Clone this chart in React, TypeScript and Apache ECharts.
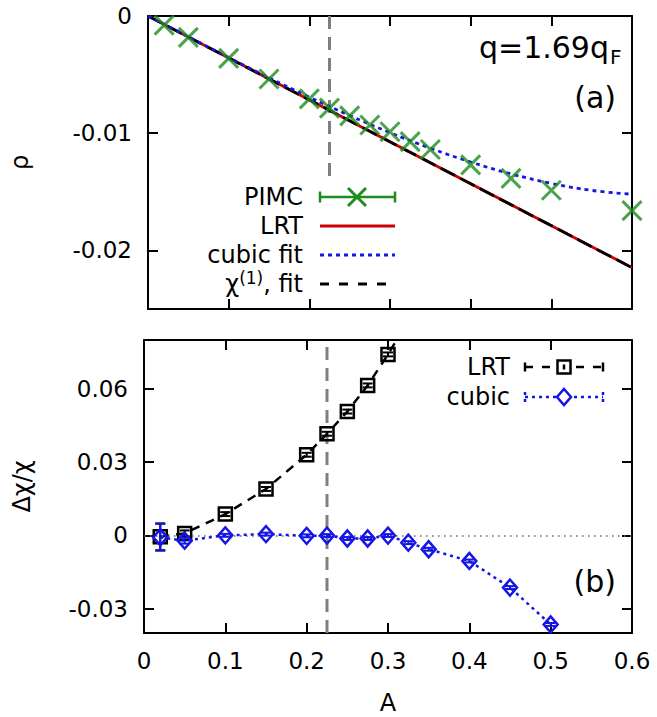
import React, { useEffect, useRef } from 'react';
import * as echarts from 'echarts';

const FONT = 'DejaVu Sans';

// ---- Panel (a): induced density rho versus perturbation amplitude A ----
const pimcA = [0.02, 0.05, 0.1, 0.15, 0.2, 0.225, 0.25, 0.275, 0.3, 0.325, 0.35, 0.4, 0.45, 0.5, 0.6];
const pimcRho = [-0.00078, -0.00182, -0.00362, -0.00538, -0.00707, -0.00786, -0.00852, -0.0093, -0.00988, -0.01072, -0.01139, -0.0127, -0.01385, -0.01487, -0.01661];

const lrtA = [0, 0.6];
const lrtRho = [0, -0.02147];

const chiFitA = [0, 0.6];
const chiFitRho = [0, -0.02147];

const cubicA = [0, 0.05, 0.1, 0.15, 0.2, 0.25, 0.3, 0.35, 0.4, 0.45, 0.5, 0.55, 0.6];
const cubicRho = [0, -0.00178, -0.00355, -0.00527, -0.00692, -0.00849, -0.00995, -0.01128, -0.01246, -0.01347, -0.01428, -0.01488, -0.01521];

// vertical guide at A = 0.225 (ends above the key in panel a, spans panel b)
const guideA = [0.225, 0.225];
const guideRhoTop = [0, -0.0142];
const guideDev = [-0.04, 0.08];

// ---- Panel (b): relative deviation of the response ----
const devA = [0.02, 0.05, 0.1, 0.15, 0.2, 0.225, 0.25, 0.275, 0.3, 0.325, 0.35, 0.4, 0.45, 0.5];
const lrtDev = [-0.0006, 0.0008, 0.0087, 0.019, 0.033, 0.0416, 0.0507, 0.0614, 0.0741, 0.088];
const lrtErr = [0.0055, 0.0012, 0.0008, 0.0008, 0.0008, 0.0008, 0.0008, 0.0008, 0.0008];
const cubicDev = [-0.0008, -0.0022, 0.0, 0.0005, -0.0002, -0.0001, -0.0013, -0.0013, -0.0001, -0.003, -0.0057, -0.0105, -0.0214, -0.0365];
const cubicErr = [0.0055, 0.0012, 0.0006, 0.0006, 0.0006, 0.0006, 0.0006, 0.0006, 0.0006, 0.0006, 0.0006, 0.0006, 0.0006, 0.0006];

// ---- axes ----
const rhoTicks = [-0.02, -0.01, 0];
const devTicks = [-0.03, 0, 0.03, 0.06];

const GREEN = '#1e8c1e';
const RED = '#cc0000';
const BLUE = '#1515e6';
const GRAY = '#7f7f7f';

const pairs = (xs: number[], ys: number[]) => ys.map((y, i) => [xs[i], y]);
const fmt = (v: number) => (Math.abs(v) < 1e-12 ? '0' : String(+v.toFixed(3)));

function App() {
  const ref = useRef<HTMLDivElement>(null);

  useEffect(() => {
    if (!ref.current) return;
    const chart = echarts.init(ref.current, undefined, { renderer: 'svg' });

    const frame = { show: true, onZero: false, lineStyle: { color: '#000', width: 2 } };
    const tick = (vals?: number[]) => ({
      show: true,
      inside: true,
      length: 10,
      lineStyle: { color: '#000', width: 2 },
      ...(vals ? { customValues: vals } : {}),
    });
    const label = (show: boolean, vals?: number[]) => ({
      show,
      fontSize: 23,
      fontFamily: FONT,
      color: '#000',
      margin: 16,
      formatter: (v: number) => fmt(v),
      ...(vals ? { customValues: vals } : {}),
    });

    const xAxisFor = (grid: number, pos: 'bottom' | 'top', showLabel: boolean, name?: string) => ({
      type: 'value',
      gridIndex: grid,
      position: pos,
      min: 0,
      max: 0.6,
      interval: 0.1,
      axisLine: frame,
      axisTick: tick(),
      axisLabel: label(showLabel),
      splitLine: { show: false },
      ...(name
        ? {
            name,
            nameLocation: 'middle',
            nameGap: 58,
            nameTextStyle: { fontSize: 24, fontFamily: FONT, color: '#000' },
          }
        : {}),
    });

    const yAxisFor = (
      grid: number,
      pos: 'left' | 'right',
      min: number,
      max: number,
      vals: number[],
      showLabel: boolean,
      name?: string,
      gap = 110
    ) => ({
      type: 'value',
      gridIndex: grid,
      position: pos,
      min,
      max,
      axisLine: frame,
      axisTick: tick(vals),
      axisLabel: label(showLabel, vals),
      splitLine: { show: false },
      ...(name
        ? {
            name,
            nameLocation: 'middle',
            nameRotate: 90,
            nameGap: gap,
            nameTextStyle: { fontSize: 24, fontFamily: FONT, color: '#000' },
          }
        : {}),
    });

    const errorBars = (xs: number[], ys: number[], es: number[], color: string, z: number) => ({
      type: 'custom',
      xAxisIndex: 2,
      yAxisIndex: 2,
      z,
      clip: true,
      encode: { x: 0, y: 1 },
      data: es.map((e, i) => [xs[i], ys[i], e]),
      renderItem: (_p: any, api: any) => {
        const x = api.value(0);
        const y = api.value(1);
        const e = api.value(2);
        const lo = api.coord([x, y - e]);
        const hi = api.coord([x, y + e]);
        const cap = 5;
        const st = { stroke: color, lineWidth: 2 };
        return {
          type: 'group',
          children: [
            { type: 'line', shape: { x1: lo[0], y1: lo[1], x2: hi[0], y2: hi[1] }, style: st },
            { type: 'line', shape: { x1: lo[0] - cap, y1: lo[1], x2: lo[0] + cap, y2: lo[1] }, style: st },
            { type: 'line', shape: { x1: hi[0] - cap, y1: hi[1], x2: hi[0] + cap, y2: hi[1] }, style: st },
          ],
        };
      },
    });

    const X_SYMBOL = 'path://M0,0L10,10M10,0L0,10';

    // key for panel (a)
    const keyA_x0 = 320;
    const keyA_x1 = 395;
    const keyA_text = 303;
    const keyTextStyle = (y: number, text: string) => ({
      type: 'text',
      x: keyA_text,
      y,
      style: {
        text,
        font: `24px "${FONT}"`,
        fill: '#000',
        align: 'right',
        verticalAlign: 'middle',
      },
    });
    const hline = (x1: number, x2: number, y: number, stroke: string, lineDash?: number[], lineWidth = 2.8) => ({
      type: 'line',
      shape: { x1, y1: y, x2, y2: y },
      style: { stroke, lineWidth, lineDash },
    });
    const vline = (x: number, y: number, h: number, stroke: string) => ({
      type: 'line',
      shape: { x1: x, y1: y - h / 2, x2: x, y2: y + h / 2 },
      style: { stroke, lineWidth: 2.5 },
    });

    const keyB_x0 = 525;
    const keyB_x1 = 603;
    const keyB_mid = 564;
    const keyB_text = 510;

    const graphic: any[] = [
      // panel (a) labels
      {
        type: 'text',
        x: 609,
        y: 47,
        style: { text: 'q=1.69q', font: `30px "${FONT}"`, fill: '#000', align: 'right', verticalAlign: 'middle' },
      },
      {
        type: 'text',
        x: 610,
        y: 57,
        style: { text: 'F', font: `20px "${FONT}"`, fill: '#000', align: 'left', verticalAlign: 'middle' },
      },
      {
        type: 'text',
        x: 616,
        y: 97,
        style: { text: '(a)', font: `30px "${FONT}"`, fill: '#000', align: 'right', verticalAlign: 'middle' },
      },
      {
        type: 'text',
        x: 616,
        y: 581,
        style: { text: '(b)', font: `30px "${FONT}"`, fill: '#000', align: 'right', verticalAlign: 'middle' },
      },

      // key (a): PIMC
      keyTextStyle(197, 'PIMC'),
      hline(keyA_x0, keyA_x1, 197, GREEN, undefined, 2.5),
      vline(keyA_x0, 197, 11, GREEN),
      vline(keyA_x1, 197, 11, GREEN),
      {
        type: 'group',
        children: [
          { type: 'line', shape: { x1: 348, y1: 188, x2: 366, y2: 206 }, style: { stroke: GREEN, lineWidth: 3 } },
          { type: 'line', shape: { x1: 366, y1: 188, x2: 348, y2: 206 }, style: { stroke: GREEN, lineWidth: 3 } },
        ],
      },
      // LRT
      keyTextStyle(226, 'LRT'),
      hline(keyA_x0, keyA_x1, 226, RED),
      // cubic fit
      keyTextStyle(255, 'cubic fit'),
      hline(keyA_x0, keyA_x1, 255, BLUE, [4, 4]),
      // chi^(1), fit
      {
        type: 'text',
        x: keyA_text,
        y: 284,
        style: {
          text: 'χ{sup|(1)}, fit',
          font: `24px "${FONT}"`,
          fill: '#000',
          align: 'right',
          verticalAlign: 'middle',
          rich: {
            sup: { fontSize: 17, fontFamily: FONT, fill: '#000', padding: [0, 0, 12, 0] },
          },
        },
      },
      hline(keyA_x0, 388, 284, '#000', [9, 10]),

      // key (b): LRT deviation
      {
        type: 'text',
        x: keyB_text,
        y: 367,
        style: { text: 'LRT', font: `24px "${FONT}"`, fill: '#000', align: 'right', verticalAlign: 'middle' },
      },
      hline(keyB_x0, keyB_x1, 367, '#000', [8, 9], 2.5),
      vline(keyB_x0, 367, 9, '#000'),
      vline(keyB_x1, 367, 9, '#000'),
      {
        type: 'rect',
        shape: { x: keyB_mid - 6.5, y: 367 - 6.5, width: 13, height: 13 },
        style: { fill: '#fff', stroke: '#000', lineWidth: 2.5 },
      },
      vline(keyB_mid, 367, 5, '#000'),
      // key (b): cubic deviation
      {
        type: 'text',
        x: keyB_text,
        y: 397,
        style: { text: 'cubic', font: `24px "${FONT}"`, fill: '#000', align: 'right', verticalAlign: 'middle' },
      },
      hline(keyB_x0, keyB_x1, 397, BLUE, [3, 4], 2.5),
      {
        type: 'line',
        shape: { x1: keyB_x0, y1: 392, x2: keyB_x0, y2: 402 },
        style: { stroke: BLUE, lineWidth: 2.5, lineDash: [3, 4] },
      },
      {
        type: 'line',
        shape: { x1: keyB_x1, y1: 392, x2: keyB_x1, y2: 402 },
        style: { stroke: BLUE, lineWidth: 2.5, lineDash: [3, 4] },
      },
      {
        type: 'polygon',
        shape: {
          points: [
            [keyB_mid, 397 - 8],
            [keyB_mid + 7, 397],
            [keyB_mid, 397 + 8],
            [keyB_mid - 7, 397],
          ],
        },
        style: { fill: '#fff', stroke: BLUE, lineWidth: 2.5 },
      },
    ];

    const option: any = {
      animation: false,
      backgroundColor: '#ffffff',
      textStyle: { fontFamily: FONT },
      grid: [
        { left: 144, top: 16, width: 488, height: 293 },
        { left: 144, top: 340, width: 488, height: 293 },
      ],
      xAxis: [
        xAxisFor(0, 'bottom', false),
        xAxisFor(0, 'top', false),
        xAxisFor(1, 'bottom', true, 'A'),
        xAxisFor(1, 'top', false),
      ],
      yAxis: [
        yAxisFor(0, 'left', -0.025, 0, rhoTicks, true, 'ρ', 116),
        yAxisFor(0, 'right', -0.025, 0, rhoTicks, false),
        yAxisFor(1, 'left', -0.04, 0.08, devTicks, true, 'Δχ/χ', 110),
        yAxisFor(1, 'right', -0.04, 0.08, devTicks, false),
      ],
      series: [
        // ---------- panel (a) ----------
        {
          name: 'guide-a',
          type: 'line',
          xAxisIndex: 0,
          yAxisIndex: 0,
          z: 1,
          symbol: 'none',
          data: pairs(guideA, guideRhoTop),
          lineStyle: { color: GRAY, width: 3, type: [13, 8] },
        },
        {
          name: 'LRT',
          type: 'line',
          xAxisIndex: 0,
          yAxisIndex: 0,
          z: 2,
          symbol: 'none',
          data: pairs(lrtA, lrtRho),
          lineStyle: { color: RED, width: 2.8 },
        },
        {
          name: 'chi1 fit',
          type: 'line',
          xAxisIndex: 0,
          yAxisIndex: 0,
          z: 3,
          symbol: 'none',
          data: pairs(chiFitA, chiFitRho),
          lineStyle: { color: '#000', width: 2.8, type: [16, 6] },
        },
        {
          name: 'cubic fit',
          type: 'line',
          xAxisIndex: 0,
          yAxisIndex: 0,
          z: 4,
          symbol: 'none',
          smooth: 0.4,
          data: pairs(cubicA, cubicRho),
          lineStyle: { color: BLUE, width: 2.8, type: [4, 4] },
        },
        {
          name: 'PIMC',
          type: 'scatter',
          xAxisIndex: 0,
          yAxisIndex: 0,
          z: 5,
          symbol: X_SYMBOL,
          symbolSize: 19,
          data: pairs(pimcA, pimcRho),
          itemStyle: { color: 'transparent', borderColor: GREEN, borderWidth: 3 },
        },

        // ---------- panel (b) ----------
        {
          name: 'guide-b',
          type: 'line',
          xAxisIndex: 2,
          yAxisIndex: 2,
          z: 1,
          symbol: 'none',
          data: pairs(guideA, guideDev),
          lineStyle: { color: GRAY, width: 3, type: [13, 8] },
        },
        {
          name: 'zero',
          type: 'line',
          xAxisIndex: 2,
          yAxisIndex: 2,
          z: 1,
          symbol: 'none',
          data: [],
          markLine: {
            silent: true,
            symbol: 'none',
            label: { show: false },
            data: [{ yAxis: 0 }],
            lineStyle: { color: '#666', width: 1.5, type: [1.5, 4.5] },
          },
        },
        errorBars(devA, lrtDev, lrtErr, '#000', 3),
        {
          name: 'LRT dev',
          type: 'line',
          xAxisIndex: 2,
          yAxisIndex: 2,
          z: 4,
          symbol: 'rect',
          symbolSize: 13,
          data: pairs(devA, lrtDev),
          lineStyle: { color: '#000', width: 2.5, type: [9, 7] },
          itemStyle: { color: 'transparent', borderColor: '#000', borderWidth: 2.5 },
        },
        errorBars(devA, cubicDev, cubicErr, BLUE, 5),
        {
          name: 'cubic dev',
          type: 'line',
          xAxisIndex: 2,
          yAxisIndex: 2,
          z: 6,
          symbol: 'diamond',
          symbolSize: [14, 16],
          data: pairs(devA, cubicDev),
          lineStyle: { color: BLUE, width: 2.5, type: [3, 4] },
          itemStyle: { color: 'transparent', borderColor: BLUE, borderWidth: 2.5 },
        },
      ],
      graphic,
    };

    chart.setOption(option);
    return () => chart.dispose();
  }, []);

  return (
    <div
      ref={ref}
      style={{ position: 'fixed', left: 0, top: 0, width: 657, height: 717, background: '#fff' }}
    />
  );
}

export default App;
